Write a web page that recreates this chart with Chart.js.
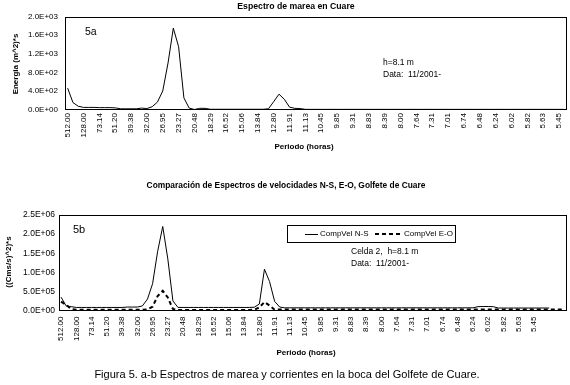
<!DOCTYPE html>
<html><head><meta charset="utf-8">
<script src="https://cdn.jsdelivr.net/npm/chart.js@4"></script>
<style>
body{margin:0;background:#fff;width:570px;height:385px;position:relative;overflow:hidden;font-family:"Liberation Sans",Arial,sans-serif;color:#000}
canvas{position:absolute;left:0}
.t{position:absolute;white-space:pre;line-height:1}
.c{transform:translate(-50%,-50%)}
.l{transform:translateY(-50%)}
.b{font-weight:bold}
.r{transform:translate(-50%,-50%) rotate(-90deg)}
</style></head><body>
<canvas id="c1" width="570" height="175" style="top:0"></canvas>
<canvas id="c2" width="570" height="190" style="top:175px"></canvas>

<div class="t c b" style="left:296px;top:5.5px;font-size:8.7px">Espectro de marea en Cuare</div>
<div class="t r b" style="left:15.5px;top:64px;font-size:8px">Energia (m^2)*s</div>
<div class="t c b" style="left:304px;top:147px;font-size:8px">Periodo (horas)</div>
<div class="t l" style="left:85px;top:31px;font-size:10.5px">5a</div>
<div class="t l" style="left:383px;top:62px;font-size:8.5px">h=8.1 m</div>
<div class="t l" style="left:383px;top:73.5px;font-size:8.5px">Data:  11/2001-</div>

<div class="t c b" style="left:286px;top:185px;font-size:8.4px">Comparación de Espectros de velocidades N-S, E-O, Golfete de Cuare</div>
<div class="t r b" style="left:9px;top:262px;font-size:8px">((Cms/s)^2)*s</div>
<div class="t l" style="left:73px;top:229px;font-size:11px">5b</div>
<div class="t l" style="left:351px;top:251px;font-size:8.5px">Celda 2,  h=8.1 m</div>
<div class="t l" style="left:351px;top:262.5px;font-size:8.5px">Data:  11/2001-</div>
<div class="t c b" style="left:306px;top:353px;font-size:8px">Periodo (horas)</div>

<div class="t c" style="left:287px;top:374px;font-size:11px">Figura 5. a-b Espectros de marea y corrientes en la boca del Golfete de Cuare.</div>

<script>
// Period labels (hours)
const periods = [
"512.00","256.00","170.67","128.00","102.40","85.33","73.14","64.00","56.89","51.20",
"46.55","42.67","39.38","36.57","34.13","32.00","30.12","28.44","26.95","25.60",
"24.38","23.27","22.26","21.33","20.48","19.69","18.96","18.29","17.66","17.07",
"16.52","16.00","15.52","15.06","14.63","14.22","13.84","13.47","13.13","12.80",
"12.49","12.19","11.91","11.64","11.38","11.13","10.89","10.67","10.45","10.24",
"10.04","9.85","9.66","9.48","9.31","9.14","8.98","8.83","8.68","8.53",
"8.39","8.26","8.13","8.00","7.88","7.76","7.64","7.53","7.42","7.31",
"7.21","7.11","7.01","6.92","6.83","6.74","6.65","6.56","6.48","6.40",
"6.32","6.24","6.17","6.10","6.02","5.95","5.89","5.82","5.75","5.69",
"5.63","5.57","5.51","5.45","5.39","5.33","5.28","5.22","5.17","5.12"];

const periodsTide = periods.slice(0, 95);
const periodsVel = periods.slice(0, 100);

// Fig 5a: tide energy (m^2)*s
const tideEnergy = [
460,150,70,45,45,45,40,40,40,35,
15,15,15,15,30,20,60,160,400,1000,
1750,1350,250,30,0,25,25,5,5,5,
5,5,5,5,5,5,5,5,15,170,
330,220,50,25,20,3,3,3,3,3,
3,3,3,3,3,3,3,3,3,3,
3,3,3,3,3,3,3,3,3,3,
3,3,3,3,3,3,3,3,3,3,
3,3,3,3,3,3,3,3,3,3,
3,3,3,3,3];

// Fig 5b: velocity spectra ((Cms/s)^2)*s
const velNS = [
350000,120000,100000,80000,80000,80000,80000,80000,80000,80000,
80000,80000,80000,90000,90000,90000,120000,300000,700000,1550000,
2200000,1350000,250000,80000,80000,80000,80000,80000,80000,80000,
80000,80000,80000,80000,80000,80000,80000,80000,85000,170000,
1080000,760000,240000,90000,70000,70000,70000,70000,70000,70000,
70000,70000,70000,70000,70000,70000,70000,70000,70000,70000,
70000,70000,70000,70000,70000,70000,70000,70000,70000,70000,
70000,70000,70000,70000,70000,70000,70000,70000,70000,70000,
70000,70000,100000,105000,105000,100000,65000,65000,65000,65000,
65000,65000,65000,65000,65000,65000,65000];

const velEO = [
230000,150000,40000,20000,20000,20000,20000,20000,20000,20000,
20000,20000,20000,20000,20000,20000,20000,30000,100000,380000,
515000,340000,40000,10000,15000,15000,15000,15000,15000,15000,
15000,15000,15000,15000,15000,15000,15000,15000,20000,80000,
220000,130000,20000,25000,25000,25000,25000,25000,25000,25000,
25000,25000,25000,25000,25000,25000,25000,25000,25000,25000,
25000,25000,25000,25000,25000,25000,25000,25000,25000,25000,
25000,25000,25000,25000,25000,25000,25000,25000,25000,25000,
25000,25000,25000,25000,25000,25000,25000,25000,25000,25000,
25000,25000,25000,25000,25000,25000,25000,25000,25000,25000];

const seriesNames = ["CompVel N-S", "CompVel E-O"];

const FONT = "'Liberation Sans', Arial, sans-serif";
Chart.defaults.color = '#000';
Chart.defaults.font.family = FONT;

function fmtE(v){
  if (v === 0) return '0.0E+00';
  let e = Math.floor(Math.log10(Math.abs(v)) + 1e-9);
  let m = v / Math.pow(10, e);
  let ms = m.toFixed(1);
  if (ms === '10.0') { ms = '1.0'; e += 1; }
  const es = (e < 0 ? '-' : '+') + String(Math.abs(e)).padStart(2, '0');
  return ms + 'E' + es;
}

const frame = {
  id: 'frame',
  afterDatasetsDraw(ch){
    const {ctx, chartArea:a} = ch;
    ctx.save();
    ctx.strokeStyle = '#000';
    ctx.lineWidth = 1;
    const l = Math.round(a.left)+0.5, t = Math.round(a.top)+0.5,
          r = Math.round(a.right)-0.5, b = Math.round(a.bottom)-0.5;
    ctx.strokeRect(l, t, r-l, b-t);
    ctx.restore();
  }
};

function xScale(labels, tickPad){
  return {
    type: 'category',
    offset: true,
    grid: {display:false, drawTicks:false},
    border: {display:false},
    ticks: {
      autoSkip:false, maxRotation:90, minRotation:90, padding:tickPad,
      font:{size:8, family:FONT},
      callback: (v, i) => (i % 3 === 0 && i <= 93) ? labels[i] : ''
    },
    afterFit: s => { s.height = 40; s.paddingLeft = 0; s.paddingRight = 0; }
  };
}
function yScale(max, step, width, pad, fs){
  return {
    min: 0, max: max,
    grid: {display:false, drawTicks:false},
    border: {display:false},
    ticks: {stepSize: step, padding: pad, font:{size:fs, family:FONT}, callback: v => fmtE(v)},
    afterFit: s => { s.width = width; s.paddingTop = 0; s.paddingBottom = 0; }
  };
}

new Chart(document.getElementById('c1'), {
  type: 'line',
  data: {
    labels: periodsTide,
    datasets: [{
      data: tideEnergy, borderColor:'#000', borderWidth:1, pointRadius:0, tension:0, fill:false
    }]
  },
  options: {
    responsive:false, animation:false, events:[],
    layout: {padding:{left:0, top:16.5, right:3, bottom:175-109.5-40}},
    plugins: {legend:{display:false}, tooltip:{enabled:false}, title:{display:false}},
    scales: { x: xScale(periodsTide, 3.5), y: yScale(2000, 400, 65, 7, 8) }
  },
  plugins: [frame]
});

const legendBox = {
  id: 'legendBox',
  afterDraw(ch){
    const ctx = ch.ctx;
    const ds = ch.data.datasets;
    ctx.save();
    ctx.strokeStyle = '#000'; ctx.lineWidth = 1;
    ctx.strokeRect(287.5, 50.5, 168, 17);
    const cy = 59;
    ctx.font = "8px " + FONT;
    ctx.fillStyle = '#000';
    ctx.textBaseline = 'middle';
    ctx.beginPath(); ctx.lineWidth = ds[0].borderWidth; ctx.setLineDash([]);
    ctx.moveTo(305, cy+0.5); ctx.lineTo(318, cy+0.5); ctx.stroke();
    ctx.fillText(ds[0].label, 320, cy);
    ctx.beginPath(); ctx.lineWidth = ds[1].borderWidth; ctx.setLineDash(ds[1].borderDash);
    ctx.moveTo(375, cy); ctx.lineTo(403, cy); ctx.stroke();
    ctx.setLineDash([]);
    ctx.fillText(ds[1].label, 404, cy);
    ctx.restore();
  }
};

new Chart(document.getElementById('c2'), {
  type: 'line',
  data: {
    labels: periodsVel,
    datasets: [{
      label: seriesNames[0], data: velNS, borderColor:'#000', borderWidth:1, pointRadius:0, tension:0, fill:false
    },{
      label: seriesNames[1], data: velEO, borderColor:'#000', borderWidth:2, borderDash:[4,3], pointRadius:0, tension:0, fill:false
    }]
  },
  options: {
    responsive:false, animation:false, events:[],
    layout: {padding:{left:0, top:40, right:3, bottom:190-135.5-40}},
    plugins: {legend:{display:false}, tooltip:{enabled:false}, title:{display:false}},
    scales: { x: xScale(periodsVel, 6), y: yScale(2500000, 500000, 58.5, 3.5, 8.5) }
  },
  plugins: [frame, legendBox]
});
</script>
</body></html>
